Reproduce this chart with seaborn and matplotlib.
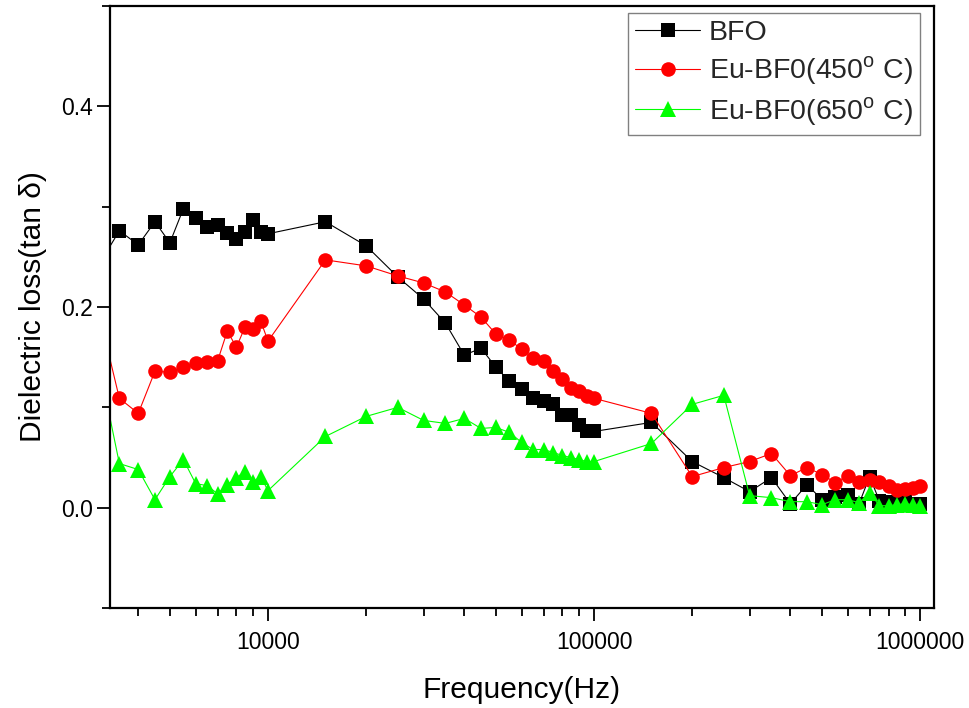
import matplotlib
matplotlib.use("Agg")
import matplotlib.pyplot as plt
import matplotlib.ticker as mticker
import seaborn as sns
import pandas as pd

freq = [3000, 3500, 4000, 4500, 5000, 5500, 6000, 6500, 7000, 7500, 8000, 8500, 9000, 9500, 10000,
        15000, 20000,
        25000, 30000, 35000, 40000, 45000, 50000, 55000, 60000, 65000, 70000, 75000, 80000, 85000, 90000, 95000, 100000,
        150000,
        200000, 250000, 300000, 350000, 400000, 450000, 500000, 550000, 600000, 650000, 700000, 750000, 800000,
        850000, 900000, 950000, 1000000]

bfo = [0.240, 0.276, 0.262, 0.285, 0.264, 0.298, 0.289, 0.280, 0.282, 0.274, 0.268, 0.275, 0.287, 0.275, 0.273,
       0.285, 0.261,
       0.230, 0.208, 0.184, 0.152, 0.159, 0.140, 0.126, 0.118, 0.109, 0.106, 0.103, 0.092, 0.092, 0.082, 0.076, 0.076,
       0.085,
       0.046, 0.030, 0.016, 0.030, 0.004, 0.023, 0.008, 0.011, 0.013, 0.004, 0.031, 0.007, 0.006,
       0.005, 0.006, 0.004, 0.004]

eu450 = [0.200, 0.109, 0.094, 0.136, 0.135, 0.140, 0.144, 0.145, 0.146, 0.176, 0.160, 0.180, 0.178, 0.186, 0.166,
         0.247, 0.241,
         0.231, 0.224, 0.215, 0.202, 0.190, 0.173, 0.167, 0.158, 0.149, 0.146, 0.136, 0.128, 0.119, 0.116, 0.111, 0.109,
         0.094,
         0.031, 0.040, 0.046, 0.054, 0.032, 0.040, 0.033, 0.025, 0.032, 0.026, 0.028, 0.026, 0.022,
         0.018, 0.019, 0.020, 0.022]

eu650 = [0.150, 0.044, 0.038, 0.008, 0.031, 0.048, 0.024, 0.022, 0.014, 0.023, 0.030, 0.036, 0.026, 0.031, 0.017,
         0.071, 0.091,
         0.100, 0.087, 0.084, 0.089, 0.079, 0.080, 0.075, 0.065, 0.058, 0.058, 0.055, 0.052, 0.050, 0.048, 0.046, 0.046,
         0.064,
         0.103, 0.112, 0.012, 0.010, 0.006, 0.006, 0.003, 0.008, 0.008, 0.005, 0.015, 0.002, 0.002,
         0.003, 0.004, 0.003, 0.002]

labels = ["BFO", "Eu-BF0(450$^\\mathregular{o}$ C)", "Eu-BF0(650$^\\mathregular{o}$ C)"]
colors = ["#000000", "#FF0000", "#00FF00"]
markers = ["s", "o", "^"]
msizes = [9.5, 10.5, 11]

x_major = [1e4, 1e5, 1e6]
x_major_labels = ["10000", "100000", "1000000"]
y_major = [0.0, 0.2, 0.4]
y_major_labels = ["0.0", "0.2", "0.4"]

sns.set_theme(style="white")
plt.rcParams['font.family'] = ['Liberation Sans', 'DejaVu Sans']
plt.rcParams['mathtext.fontset'] = 'custom'
plt.rcParams['mathtext.rm'] = 'Liberation Sans'

fig = plt.figure(figsize=(9.7, 7.08), dpi=100)
ax = fig.add_axes([0.1134, 0.1412, 0.963 - 0.1134, 0.9915 - 0.1412])

df = pd.DataFrame({"freq": freq, "BFO": bfo, "450": eu450, "650": eu650})
for col, lab, c, m, ms in zip(["BFO", "450", "650"], labels, colors, markers, msizes):
    sns.lineplot(data=df, x="freq", y=col, ax=ax, color=c, marker=m, markersize=ms,
                 markeredgecolor=c, markeredgewidth=0, linewidth=0.8, label=lab,
                 sort=False, estimator=None, clip_on=True)

ax.set_xscale("log")
ax.set_xlim(3276, 1.104e6)
ax.set_ylim(-0.1, 0.5)

ax.set_xticks(x_major)
ax.set_xticklabels(x_major_labels)
ax.xaxis.set_minor_locator(mticker.LogLocator(base=10, subs=[2, 3, 4, 5, 6, 7, 8, 9], numticks=20))
ax.xaxis.set_minor_formatter(mticker.NullFormatter())
ax.set_yticks(y_major)
ax.set_yticklabels(y_major_labels)
ax.yaxis.set_minor_locator(mticker.FixedLocator([-0.1, 0.1, 0.3, 0.5]))

ax.tick_params(axis="both", which="major", direction="out", length=9.4, width=1.3,
               labelsize=16.5, color="black", labelcolor="black",
               bottom=True, left=True, top=False, right=False)
ax.tick_params(axis="x", which="major", pad=7)
ax.tick_params(axis="y", which="major", pad=3)
ax.tick_params(axis="both", which="minor", direction="out", length=6, width=1.3,
               color="black", bottom=True, left=True, top=False, right=False)

for s in ax.spines.values():
    s.set_color("black")
    s.set_linewidth(1.6)

ax.set_xlabel("Frequency(Hz)", fontsize=21.5, color="black", labelpad=16)
ax.set_ylabel("Dielectric loss(tan δ)", fontsize=21.5, color="black", labelpad=10)

leg = ax.legend(loc="upper right", bbox_to_anchor=(0.983, 0.988), fontsize=20.5, frameon=True,
                fancybox=False, edgecolor="#808080", framealpha=1, handlelength=2.3,
                borderpad=0.25, labelspacing=0.28, handletextpad=0.3, borderaxespad=0)
leg.get_frame().set_linewidth(1.0)

fig.savefig("out.png", dpi=100)
